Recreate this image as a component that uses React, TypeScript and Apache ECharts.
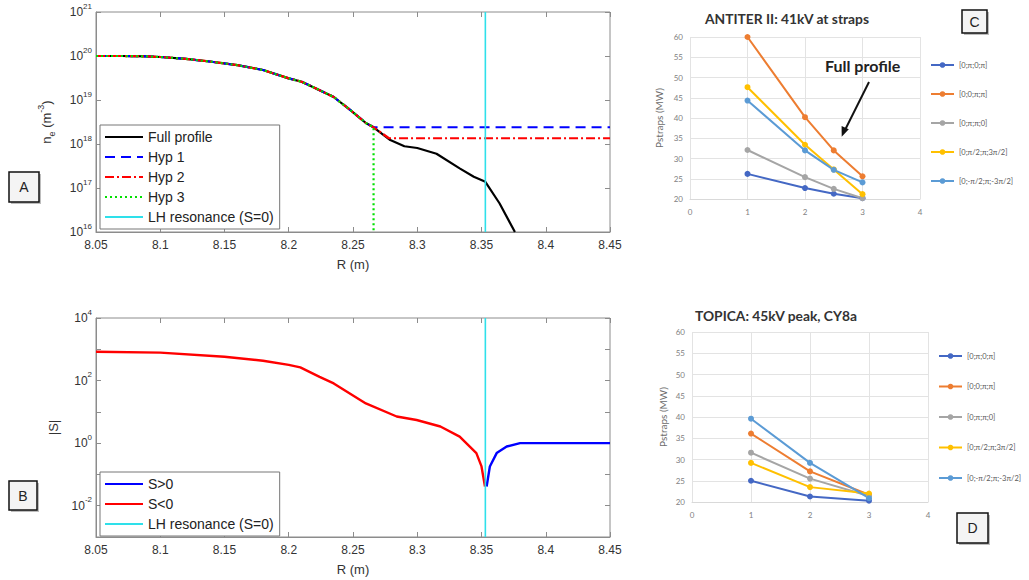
import React, { useEffect, useRef } from "react";
import * as echarts from "echarts";

// ---------- Panel A: density profile ----------
const R_PROFILE = [8.05, 8.07, 8.09, 8.1, 8.12, 8.14, 8.16, 8.18, 8.2, 8.21, 8.22, 8.235, 8.248, 8.26, 8.266, 8.279, 8.29, 8.3, 8.315, 8.333, 8.344, 8.353, 8.364, 8.376];
const NE_PROFILE = [1.0e20, 1.0e20, 9.8e19, 9.5e19, 8.6e19, 7.4e19, 6.2e19, 4.8e19, 3.1e19, 2.6e19, 1.9e19, 1.17e19, 5.9e18, 3.0e18, 2.4e18, 1.23e18, 8.9e17, 8.1e17, 6.0e17, 2.8e17, 1.8e17, 1.38e17, 4.5e16, 1.0e16];
const HYP_BREAK = 8.266;
const HYP1_LEVEL = 2.4e18;
const HYP2_BREAK = 8.278;
const HYP2_LEVEL = 1.35e18;
const HYP3_FLOOR = 1.0e16;
const R_END = 8.45;
const LH_R = 8.353;
const A_LEGEND = ["Full profile", "Hyp 1", "Hyp 2", "Hyp 3", "LH resonance (S=0)"];

// ---------- Panel B: |S| ----------
const R_SNEG = [8.05, 8.1, 8.15, 8.18, 8.2, 8.209, 8.224, 8.235, 8.26, 8.284, 8.2995, 8.318, 8.333, 8.346, 8.35, 8.3527];
const S_NEG = [830, 780, 575, 430, 316, 263, 132, 81, 18.6, 7.1, 5.5, 3.4, 1.62, 0.48, 0.18, 0.041];
const R_SPOS = [8.354, 8.3565, 8.3618, 8.3696, 8.38, 8.4, 8.45];
const S_POS = [0.041, 0.18, 0.48, 0.78, 1.0, 1.0, 1.0];
const B_LEGEND = ["S>0", "S<0", "LH resonance (S=0)"];

// ---------- Panels C / D: Pstraps ----------
const CASES = ["[0;π;0;π]", "[0;0;π;π]", "[0;π;π;0]", "[0;π/2;π;3π/2]", "[0;-π/2;π;-3π/2]"];
const CASE_COLORS = ["#4468c4", "#ed7d31", "#a5a5a5", "#ffc000", "#5b9bd5"];
const C_X = [1, 2, 2.5, 3];
const C_VALUES = [
  [26.2, 22.7, 21.3, 20.2],
  [60.0, 40.2, 32.0, 25.6],
  [32.1, 25.4, 22.5, 20.2],
  [47.6, 33.4, 27.3, 21.2],
  [44.3, 32.0, 27.2, 24.1],
];
const D_X = [1, 2, 3];
const D_VALUES = [
  [25.0, 21.3, 20.3],
  [36.1, 27.2, 21.7],
  [31.6, 25.5, 21.4],
  [29.2, 23.5, 22.0],
  [39.6, 29.2, 20.9],
];
const C_TITLE = "ANTITER II: 41kV at straps";
const D_TITLE = "TOPICA: 45kV peak, CY8a";

const MFONT = "'Liberation Sans', Arial, sans-serif";
const XFONT = "Lato, 'Open Sans', sans-serif";
const MCOL = "#333";
const AXCOL = "#8c8c8c";

function supLabel(v: number, evenOnly: boolean) {
  const e = Math.round(Math.log10(v));
  if (evenOnly && e % 2 !== 0) return "";
  return `{b|10}{s|${e}}`;
}

const tickRich = {
  b: { fontSize: 12, lineHeight: 20, color: MCOL, fontFamily: MFONT, verticalAlign: "middle" },
  s: { fontSize: 8, lineHeight: 9, color: MCOL, fontFamily: MFONT, verticalAlign: "top" },
};

function mX(grid: number, top = false) {
  return {
    gridIndex: grid,
    type: "value",
    position: top ? "top" : "bottom",
    min: 8.05,
    max: 8.45,
    interval: 0.05,
    name: top ? "" : "R (m)",
    nameLocation: "middle",
    nameGap: 26,
    nameTextStyle: { fontSize: 13, color: MCOL, fontFamily: MFONT },
    axisLine: { show: !top, onZero: false, lineStyle: { color: AXCOL } },
    axisTick: { show: true, inside: true, length: 5, lineStyle: { color: AXCOL } },
    axisLabel: { show: !top, fontSize: 12, color: MCOL, fontFamily: MFONT, margin: 7 },
    splitLine: { show: false },
  };
}

function mY(grid: number, min: number, max: number, split: number, evenOnly: boolean, name: string, nameRich: any, nameGap: number, right = false) {
  return {
    gridIndex: grid,
    type: "log",
    logBase: 10,
    position: right ? "right" : "left",
    min,
    max,
    splitNumber: split,
    name: right ? "" : name,
    nameLocation: "middle",
    nameGap,
    nameTextStyle: { fontSize: 13, color: MCOL, fontFamily: MFONT, rich: nameRich },
    axisLine: { show: !right, lineStyle: { color: AXCOL } },
    axisTick: { show: true, inside: true, length: 5, lineStyle: { color: AXCOL } },
    axisLabel: { show: !right, formatter: (v: number) => supLabel(v, evenOnly), rich: tickRich, margin: 4 },
    splitLine: { show: false },
  };
}

function xlX(grid: number) {
  return {
    gridIndex: grid,
    type: "value",
    min: 0,
    max: 4,
    interval: 1,
    axisLine: { show: true, lineStyle: { color: "#d9d9d9" } },
    axisTick: { show: false },
    axisLabel: { fontSize: 8, color: "#7f7f7f", fontFamily: XFONT, margin: 9 },
    splitLine: { show: true, lineStyle: { color: "#e3e3e3" } },
  };
}

function xlY(grid: number, gap: number) {
  return {
    gridIndex: grid,
    type: "value",
    min: 20,
    max: 60,
    interval: 5,
    name: "Pstraps (MW)",
    nameLocation: "middle",
    nameGap: gap,
    nameTextStyle: { fontSize: 10, color: "#6b6b6b", fontFamily: XFONT },
    axisLine: { show: false },
    axisTick: { show: false },
    axisLabel: { fontSize: 8, color: "#7f7f7f", fontFamily: XFONT, margin: 7 },
    splitLine: { show: true, lineStyle: { color: "#e3e3e3" } },
  };
}

function pairs(xs: number[], ys: number[]) {
  return xs.map((x, i) => [x, ys[i]]);
}

function profileUpTo(r: number) {
  const out: number[][] = [];
  R_PROFILE.forEach((x, i) => {
    if (x <= r + 1e-9) out.push([x, NE_PROFILE[i]]);
  });
  return out;
}

function labelBox(x: number, y: number, w: number, h: number, t: string) {
  return {
    type: "group",
    z: 100,
    children: [
      { type: "rect", z: 100, shape: { x: x + 2, y: y + 2, width: w, height: h }, style: { fill: "#bdbdbd", stroke: "none" } },
      { type: "rect", z: 101, shape: { x, y, width: w, height: h }, style: { fill: "#f4f4f4", stroke: "#111", lineWidth: 1.5 } },
      { type: "text", z: 102, style: { x: x + w / 2, y: y + h / 2, text: t, fill: "#222", font: "14px 'Liberation Sans', Arial", align: "center", verticalAlign: "middle" } },
    ],
  };
}

function buildOption() {
  const mLine = (name: string, data: number[][], color: string, type: any, xi: number, width = 2.2) => ({
    name,
    type: "line",
    xAxisIndex: xi,
    yAxisIndex: xi,
    data,
    symbol: "none",
    lineStyle: { color, width, type },
    itemStyle: { color },
  });

  const series: any[] = [
    mLine("Full profile", pairs(R_PROFILE, NE_PROFILE), "#000", "solid", 0),
    mLine("Hyp 1", [...profileUpTo(HYP_BREAK - 0.005), [HYP_BREAK, HYP1_LEVEL], [R_END, HYP1_LEVEL]], "#0000ff", [10, 6], 0),
    mLine("Hyp 2", [...profileUpTo(HYP_BREAK), [HYP2_BREAK, HYP2_LEVEL], [R_END, HYP2_LEVEL]], "#ff0000", [9, 3, 2, 3], 0),
    mLine("Hyp 3", [...profileUpTo(HYP_BREAK), [HYP_BREAK, HYP3_FLOOR]], "#00e000", [2, 3], 0),
    mLine("LH resonance (S=0)", [[LH_R, 1e16], [LH_R, 1e21]], "#2ee0ea", "solid", 0, 1.6),
    mLine("S>0", pairs(R_SPOS, S_POS), "#0000ff", "solid", 1, 2.4),
    mLine("S<0", pairs(R_SNEG, S_NEG), "#ff0000", "solid", 1, 2.4),
    mLine("LH resonance (S=0)", [[LH_R, 1e-3], [LH_R, 1e4]], "#2ee0ea", "solid", 1, 1.6),
  ];

  CASES.forEach((name, k) => {
    series.push({
      name,
      type: "line",
      xAxisIndex: 2,
      yAxisIndex: 2,
      data: pairs(C_X, C_VALUES[k]),
      symbol: "circle",
      symbolSize: 6,
      lineStyle: { color: CASE_COLORS[k], width: 2 },
      itemStyle: { color: CASE_COLORS[k] },
    });
  });
  CASES.forEach((name, k) => {
    series.push({
      name,
      type: "line",
      xAxisIndex: 3,
      yAxisIndex: 3,
      data: pairs(D_X, D_VALUES[k]),
      symbol: "circle",
      symbolSize: 6,
      lineStyle: { color: CASE_COLORS[k], width: 2 },
      itemStyle: { color: CASE_COLORS[k] },
    });
  });

  const aNameRich = {
    n: { fontSize: 13, lineHeight: 20, color: MCOL, fontFamily: MFONT, verticalAlign: "middle" },
    sub: { fontSize: 9, lineHeight: 9, color: MCOL, fontFamily: MFONT, verticalAlign: "bottom" },
    sup: { fontSize: 9, lineHeight: 9, color: MCOL, fontFamily: MFONT, verticalAlign: "top" },
  };

  const mLegend = (top: number, data: string[]) => ({
    orient: "vertical",
    left: 100,
    top,
    padding: [5, 6, 5, 4],
    itemWidth: 38,
    itemHeight: 14,
    itemGap: 6,
    borderColor: "#777",
    borderWidth: 1,
    backgroundColor: "#fff",
    selectedMode: false,
    itemStyle: { opacity: 0, borderWidth: 0 },
    textStyle: { fontSize: 14, color: "#222", fontFamily: MFONT },
    data,
  });

  const xLegend = (left: number, top: number, gap: number) => ({
    orient: "vertical",
    left,
    top,
    padding: 5,
    itemWidth: 23,
    itemHeight: 7,
    itemGap: gap,
    selectedMode: false,
    textStyle: { fontSize: 7.5, color: "#595959", fontFamily: XFONT },
    data: CASES,
  });

  const titleStyle = { fontSize: 13.8, fontWeight: "bold", color: "#333", fontFamily: XFONT };

  return {
    animation: false,
    backgroundColor: "#fff",
    title: [
      { text: C_TITLE, left: 705, top: 11, padding: 0, textStyle: titleStyle },
      { text: D_TITLE, left: 695, top: 308, padding: 0, textStyle: titleStyle },
    ],
    grid: [
      { left: 96, top: 12, width: 514, height: 220, show: true, borderColor: AXCOL, borderWidth: 1, backgroundColor: "transparent" },
      { left: 96, top: 318, width: 514, height: 219, show: true, borderColor: AXCOL, borderWidth: 1, backgroundColor: "transparent" },
      { left: 690, top: 37, width: 230, height: 162 },
      { left: 692, top: 332, width: 236, height: 170 },
    ],
    xAxis: [mX(0), mX(1), xlX(2), xlX(3), mX(0, true), mX(1, true)],
    yAxis: [
      mY(0, 1e16, 1e21, 5, false, "{n|n}{sub|e}{n| (m}{sup|-3}{n|)}", aNameRich, 40),
      mY(1, 1e-3, 1e4, 7, true, "|S|", undefined, 36),
      xlY(2, 26),
      xlY(3, 24),
      mY(0, 1e16, 1e21, 5, false, "", undefined, 40, true),
      mY(1, 1e-3, 1e4, 7, true, "", undefined, 36, true),
    ],
    legend: [mLegend(125, A_LEGEND), mLegend(472, B_LEGEND), xLegend(925, 56, 21), xLegend(933, 347, 22.5)],
    series,
    graphic: [
      labelBox(9, 172, 30, 30, "A"),
      labelBox(9, 481, 28, 29, "B"),
      labelBox(962, 10, 25, 23, "C"),
      labelBox(957, 513, 31, 30, "D"),
      { type: "text", z: 100, style: { x: 825, y: 65, text: "Full profile", fill: "#222", font: `bold 16px ${XFONT}`, verticalAlign: "middle" } },
      { type: "line", z: 100, shape: { x1: 869, y1: 82, x2: 845, y2: 130 }, style: { stroke: "#111", lineWidth: 2 } },
      { type: "polygon", z: 100, shape: { points: [[841.7, 136.7], [848.8, 129.2], [841.6, 126.0]] }, style: { fill: "#111" } },
    ],
  };
}

export default function App() {
  const ref = useRef<HTMLDivElement>(null);
  useEffect(() => {
    const chart = echarts.init(ref.current as HTMLDivElement, null, { renderer: "svg" });
    chart.setOption(buildOption() as any);
    return () => chart.dispose();
  }, []);
  return (
    <div
      ref={ref}
      style={{ position: "absolute", left: 0, top: 0, width: 1029, height: 580, background: "#fff" }}
    />
  );
}
